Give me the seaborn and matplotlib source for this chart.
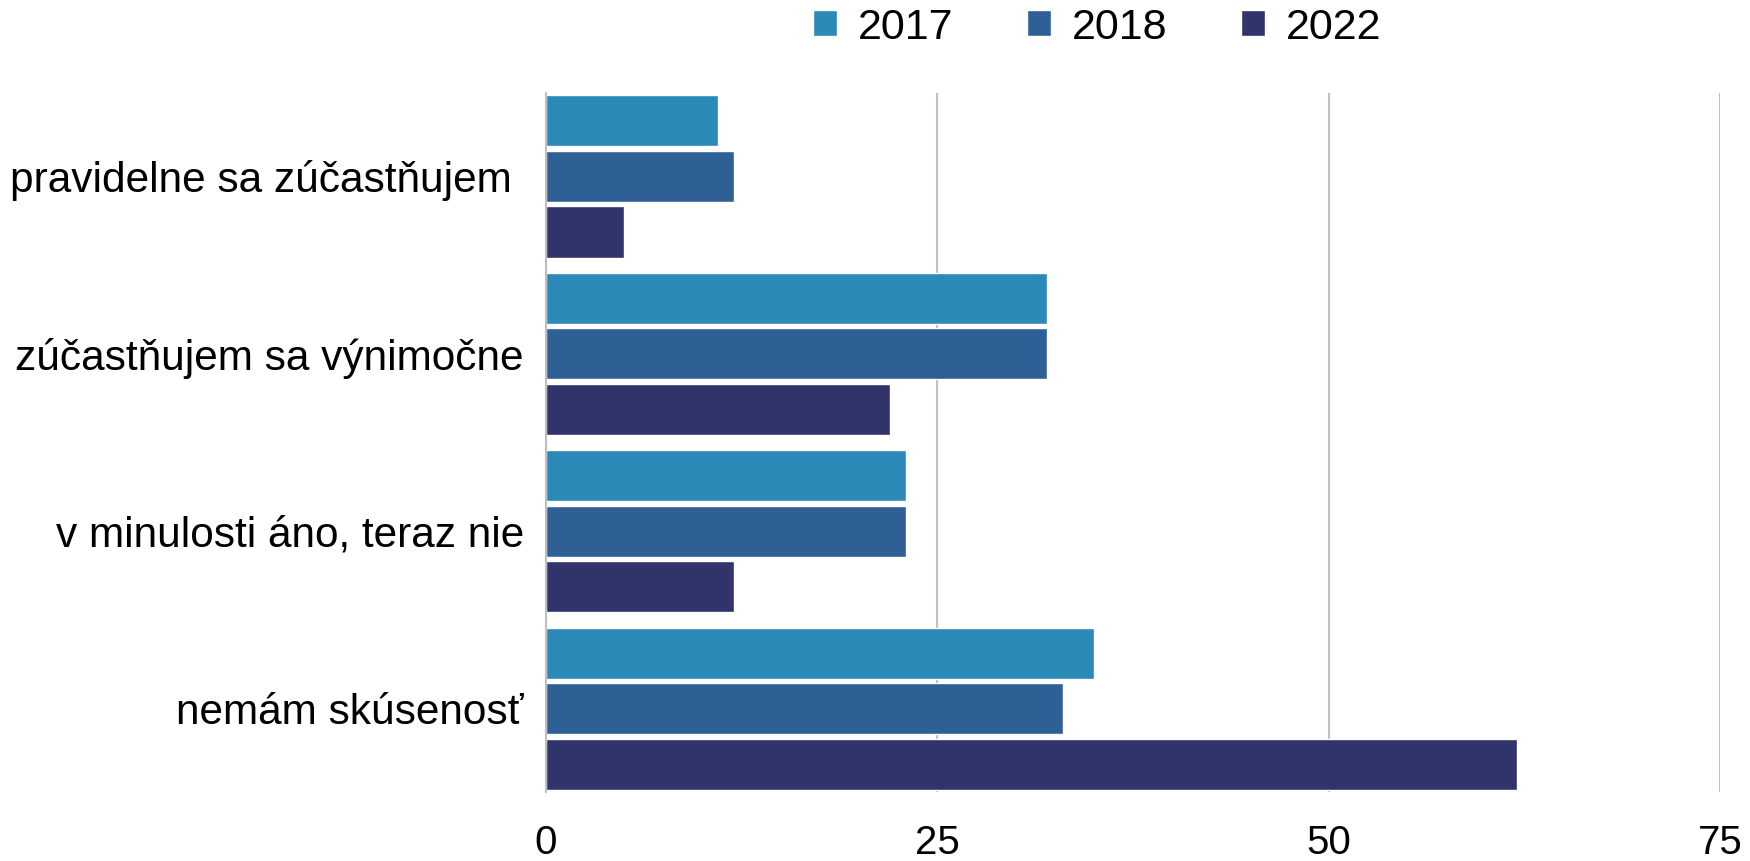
import pandas as pd
import seaborn as sns
import matplotlib.pyplot as plt

categories = ['pravidelne sa zúčastňujem ', 'zúčastňujem sa výnimočne',
              'v minulosti áno, teraz nie', 'nemám skúsenosť']
years = ['2017', '2018', '2022']
values_2017 = [11, 32, 23, 35]
values_2018 = [12, 32, 23, 33]
values_2022 = [5, 22, 12, 62]
x_ticks = [0, 25, 50, 75]
colors = ['#2B8AB8', '#2E6096', '#30346B']

df = pd.DataFrame({
    'kategoria': categories * 3,
    'rok': [y for y in years for _ in categories],
    'hodnota': values_2017 + values_2018 + values_2022,
})

sns.set_style('white')
plt.rcParams['font.family'] = ['Liberation Sans', 'DejaVu Sans']
plt.rcParams['text.color'] = 'black'

fig = plt.figure(figsize=(17.5, 8.61), dpi=100)
ax = fig.add_axes([0.312, 0.080, 0.671, 0.812])

sns.barplot(data=df, y='kategoria', x='hodnota', hue='rok', order=categories,
            hue_order=years, palette=colors, orient='h', width=0.94, gap=0.08,
            saturation=1, ax=ax, legend=True)

ax.set_xlim(0, 75)
ax.set_ylim(3.47, -0.47)
ax.set_xticks(x_ticks)
ax.set_xlabel('')
ax.set_ylabel('')
ax.tick_params(axis='x', labelsize=29, length=0, pad=23, labelcolor='black')
ax.tick_params(axis='y', labelsize=30.5, length=0, pad=16, labelcolor='black')
ax.grid(axis='x', color='#BFBFBF', linewidth=1.5)
ax.set_axisbelow(True)
for side in ['top', 'right', 'bottom']:
    ax.spines[side].set_visible(False)
ax.spines['left'].set_color('#BFBFBF')
ax.spines['left'].set_linewidth(1.5)

handles, labels = ax.get_legend_handles_labels()
ax.get_legend().remove()
fig.legend(handles, labels, loc='center', bbox_to_anchor=(0.627, 0.968), ncol=3,
           frameon=False, fontsize=31, handlelength=0.55, handleheight=0.55,
           columnspacing=1.7, handletextpad=0.5)

fig.savefig('out.png', dpi=100)
